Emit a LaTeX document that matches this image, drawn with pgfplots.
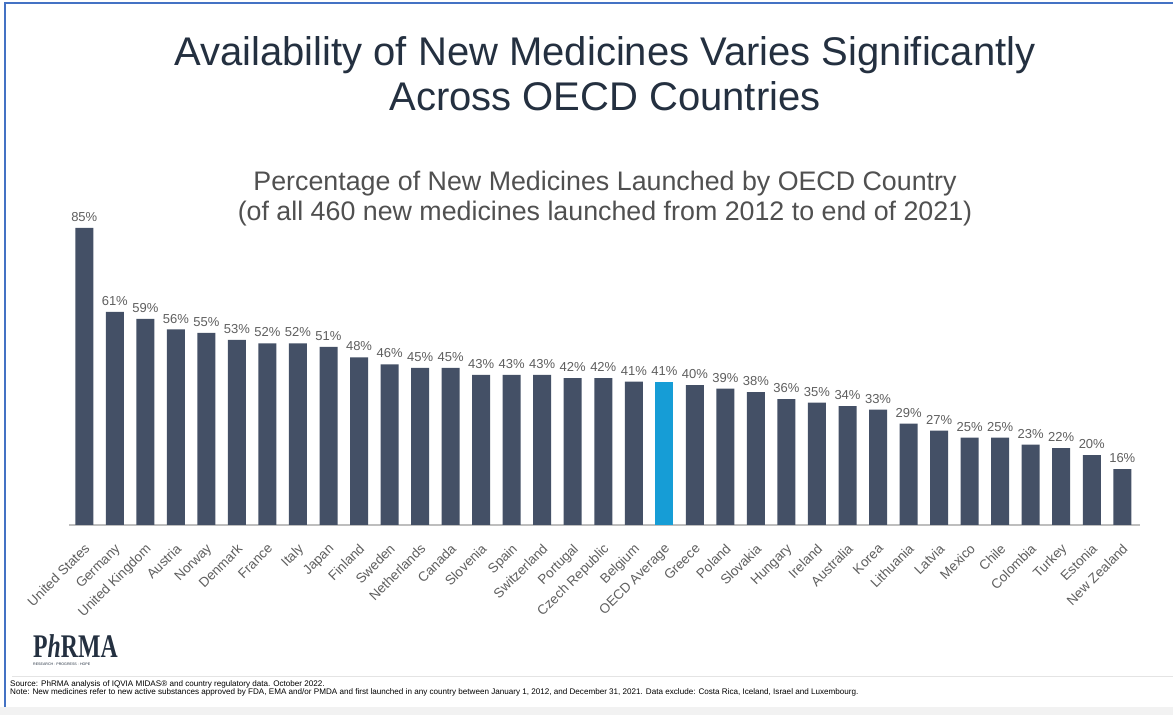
\documentclass[border=0pt]{standalone}
\usepackage{pgfplots}
\usepackage{pgfplotstable}
\pgfplotsset{compat=1.18}
\usepackage{fontspec}
\setmainfont{Liberation Sans}
\newfontfamily\logofont{Liberation Serif}

\definecolor{barslate}{RGB}{68,80,102}
\definecolor{oecdblue}{RGB}{22,157,214}
\definecolor{titleink}{RGB}{36,48,64}
\definecolor{subink}{RGB}{80,80,80}
\definecolor{labelink}{RGB}{95,95,95}
\definecolor{baseline}{RGB}{190,190,190}
\definecolor{frameblue}{RGB}{68,114,196}
\definecolor{bandgray}{RGB}{242,242,242}
\definecolor{rulegray}{RGB}{228,228,228}

% share of the 460 new medicines launched, by country (index, percent)
\pgfplotstableread{
x y
0 85
1 61
2 59
3 56
4 55
5 53
6 52
7 52
8 51
9 48
10 46
11 45
12 45
13 43
14 43
15 43
16 42
17 42
18 41
20 40
21 39
22 38
23 36
24 35
25 34
26 33
27 29
28 27
29 25
30 25
31 23
32 22
33 20
34 16
}\countrydata

\pgfplotstableread{
x y
19 41
}\oecddata

\begin{document}
\begin{tikzpicture}[x=1pt,y=1pt]
\useasboundingbox (0,0) rectangle (1173,715);
\fill[white] (0,0) rectangle (1173,715);
\fill[bandgray] (0,0) rectangle (1173,8);
\draw[rulegray, line width=1pt] (12,38) -- (1173,38);
\draw[frameblue, line width=2pt] (5,8) -- (5,712) -- (1173,712);

% titles
\node[anchor=base, text=titleink, font=\fontsize{40}{40}\selectfont] at (605,649) {Availability of New Medicines Varies Significantly};
\node[anchor=base, text=titleink, font=\fontsize{40}{40}\selectfont] at (605,604) {Across OECD Countries};
\node[anchor=base, text=subink, font=\fontsize{26.8}{26.8}\selectfont] at (605,524) {Percentage of New Medicines Launched by OECD Country};
\node[anchor=base, text=subink, font=\fontsize{26.8}{26.8}\selectfont] at (605,494) {(of all 460 new medicines launched from 2012 to end of 2021)};

\begin{axis}[
  at={(69pt,190pt)}, anchor=south west,
  scale only axis, width=1071pt, height=297pt,
  xmin=-0.5, xmax=34.58, ymin=0, ymax=85,
  axis y line=none, axis x line*=bottom,
  x axis line style={draw=baseline, line width=1.5pt, -},
  xtick={0,...,34}, major tick length=0pt,
  xticklabels={United States,Germany,United Kingdom,Austria,Norway,Denmark,France,Italy,Japan,Finland,Sweden,Netherlands,Canada,Slovenia,Spain,Switzerland,Portugal,Czech Republic,Belgium,OECD Average,Greece,Poland,Slovakia,Hungary,Ireland,Australia,Korea,Lithuania,Latvia,Mexico,Chile,Colombia,Turkey,Estonia,New Zealand},
  xticklabel style={rotate=45, anchor=north east, font=\fontsize{13.5}{13.5}\selectfont, text=labelink, inner sep=0pt, xshift=-13pt, yshift=-12pt},
  ybar, bar width=18pt, bar shift=0pt,
  /pgf/number format/assume math mode=true,
  nodes near coords={\pgfmathprintnumber{\pgfplotspointmeta}\%},
  every node near coord/.append style={font=\fontsize{13}{13}\selectfont, text=labelink, inner sep=2pt, yshift=4pt},
  clip=false,
]
\addplot[fill=barslate, draw=none] table[x=x, y=y] {\countrydata};
\addplot[fill=oecdblue, draw=none] table[x=x, y=y] {\oecddata};
\end{axis}

% logo
\node[anchor=base west, text=titleink, inner sep=0pt] at (33,57) {\logofont\bfseries\scalebox{0.72}[1]{\fontsize{33}{33}\selectfont P\textit{h}RMA}};
\node[anchor=base west, text=titleink, inner sep=0pt, font=\fontsize{3.6}{4}\selectfont] at (33,49) {RESEARCH \textperiodcentered{} PROGRESS \textperiodcentered{} HOPE};

% footer
\node[anchor=base west, text=black, inner sep=0pt, font=\fontsize{8.1}{8.5}\selectfont] at (10,28.5) {Source: PhRMA analysis of IQVIA MIDAS® and country regulatory data. October 2022.};
\node[anchor=base west, text=black, inner sep=0pt, font=\fontsize{8.1}{8.5}\selectfont] at (10,20.5) {Note: New medicines refer to new active substances approved by FDA, EMA and/or PMDA and first launched in any country between January 1, 2012, and December 31, 2021. Data exclude: Costa Rica, Iceland, Israel and Luxembourg.};
\end{tikzpicture}
\end{document}
